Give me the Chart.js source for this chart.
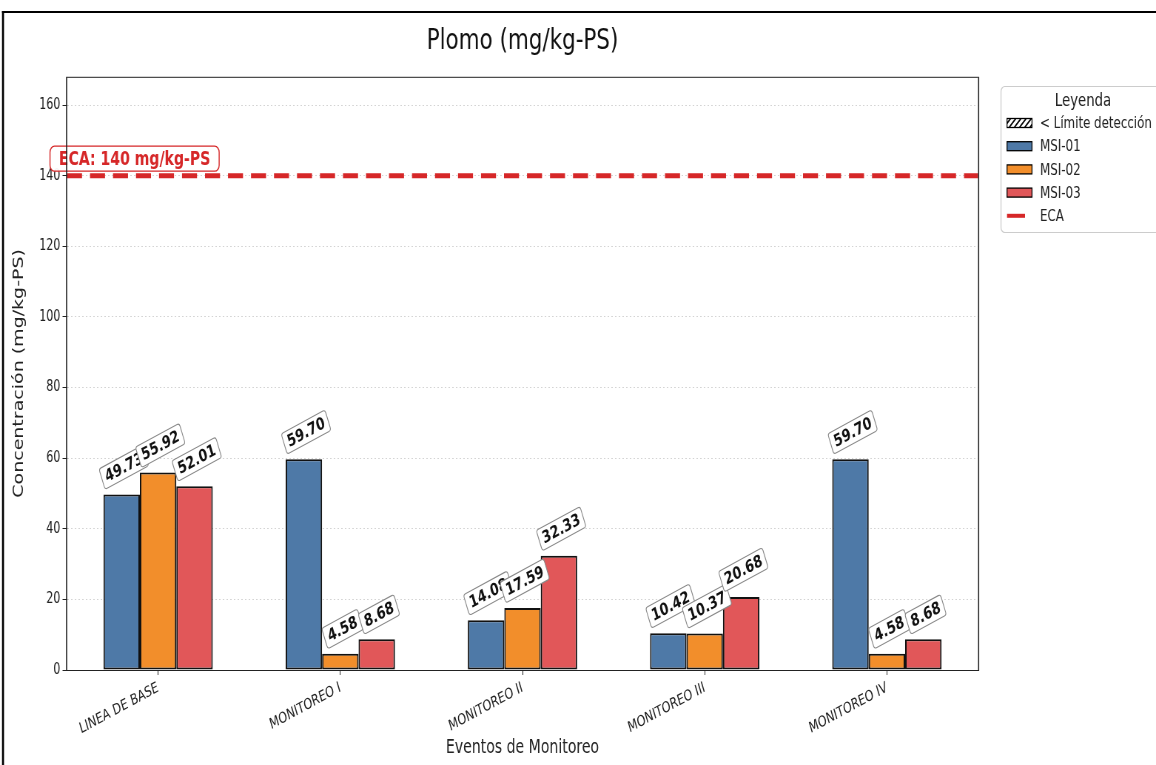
<!DOCTYPE html>
<html>
<head>
<meta charset="utf-8">
<script src="https://cdn.jsdelivr.net/npm/chart.js"></script>
<style>
    html, body { margin: 0; padding: 0; background: #fff; overflow: hidden; }
    #plomo-chart { display: block; }
</style>
</head>
<body>
<!-- el original está comprimido horizontalmente: se dibuja más ancho y se escala por CSS -->
<canvas id="plomo-chart" width="1562" height="765" style="width:1156px;height:765px"></canvas>

<script>
    // Datos del gráfico
    var eventos = ['LINEA DE BASE', 'MONITOREO I', 'MONITOREO II', 'MONITOREO III', 'MONITOREO IV'];
    var msi01 = [49.73, 59.70, 14.08, 10.42, 59.70];
    var msi02 = [55.92, 4.58, 17.59, 10.37, 4.58];
    var msi03 = [52.01, 8.68, 32.33, 20.68, 8.68];
    var ecaValor = 140;
    var yMax = 168;
    var yPaso = 20;

    var SX = 1156 / 1562;   // compresión horizontal
    function lx(px) { return px / SX; }

    var colores = ['#4e79a7', '#f28e2b', '#e15759'];
    var rojoEca = '#d62728';
    var fuente = "'DejaVu Sans', sans-serif";

    // Fondo blanco, marco exterior y caja del área de trazado
    var marcoPlugin = {
        id: 'marco',
        beforeDraw: function(chart) {
            var ctx = chart.ctx;
            ctx.save();
            ctx.fillStyle = '#fff';
            ctx.fillRect(0, 0, chart.width, chart.height);
            ctx.restore();
        },
        afterDraw: function(chart) {
            var ctx = chart.ctx;
            ctx.save();
            ctx.fillStyle = '#000';
            ctx.fillRect(lx(2), 11, chart.width, 2);
            ctx.fillRect(lx(2), 11, lx(2), chart.height);
            var a = chart.chartArea;
            ctx.fillStyle = '#222';
            ctx.fillRect(a.left, a.top, a.right - a.left, 1);
            ctx.fillRect(a.left, a.bottom, a.right - a.left + lx(1), 1);
            ctx.fillRect(a.left - lx(1), a.top, lx(1.2), a.bottom - a.top + 1);
            ctx.fillRect(a.right, a.top, lx(1.2), a.bottom - a.top + 1);
            ctx.restore();
        }
    };

    // Línea ECA y su etiqueta
    var ecaPlugin = {
        id: 'eca',
        afterDatasetsDraw: function(chart) {
            var ctx = chart.ctx;
            var a = chart.chartArea;
            var y = chart.scales.y.getPixelForValue(ecaValor);
            ctx.save();
            ctx.strokeStyle = rojoEca;
            ctx.lineWidth = 5;
            ctx.setLineDash([lx(15), lx(8)]);
            ctx.beginPath();
            ctx.moveTo(a.left, y);
            ctx.lineTo(a.right, y);
            ctx.stroke();
            ctx.setLineDash([]);

            var txt = 'ECA: ' + ecaValor + ' mg/kg-PS';
            ctx.font = 'bold 19px ' + fuente;
            var w = ctx.measureText(txt).width;
            var x0 = lx(50), bh = 25, by = y - 17 - bh / 2;
            ctx.fillStyle = 'rgba(255,255,255,0.95)';
            ctx.strokeStyle = rojoEca;
            ctx.lineWidth = 1.4;
            ctx.beginPath();
            ctx.roundRect(x0, by, w + 24, bh, 6);
            ctx.fill();
            ctx.stroke();
            ctx.fillStyle = rojoEca;
            ctx.textBaseline = 'middle';
            ctx.fillText(txt, x0 + 12, by + bh / 2 + 1);
            ctx.restore();
        }
    };

    // Etiquetas de valor rotadas sobre cada barra
    var etiquetasPlugin = {
        id: 'etiquetas',
        afterDatasetsDraw: function(chart) {
            var ctx = chart.ctx;
            var ang = 22 * Math.PI / 180;
            ctx.save();
            ctx.font = 'bold 17px ' + fuente;
            chart.data.datasets.forEach(function(ds, i) {
                var meta = chart.getDatasetMeta(i);
                meta.data.forEach(function(bar, j) {
                    var txt = ds.data[j].toFixed(2);
                    var bw = ctx.measureText(txt).width + 10;
                    var bh = 22;
                    var H = bw * Math.sin(ang) + bh * Math.cos(ang);
                    var cx = bar.x + 3;
                    var cy = bar.y - 5 - H / 2;
                    ctx.save();
                    ctx.translate(cx, cy);
                    ctx.rotate(-ang);
                    ctx.fillStyle = '#fff';
                    ctx.strokeStyle = '#888';
                    ctx.lineWidth = 1.1;
                    ctx.beginPath();
                    ctx.roundRect(-bw / 2, -bh / 2, bw, bh, 3);
                    ctx.fill();
                    ctx.stroke();
                    ctx.fillStyle = '#111';
                    ctx.textAlign = 'center';
                    ctx.textBaseline = 'middle';
                    ctx.fillText(txt, 0, 1);
                    ctx.restore();
                });
            });
            ctx.restore();
        }
    };

    // Leyenda dibujada a mano (incluye el patrón rayado)
    function patronRayado(ctx) {
        var c = document.createElement('canvas');
        c.width = 7; c.height = 7;
        var p = c.getContext('2d');
        p.fillStyle = '#fff';
        p.fillRect(0, 0, 7, 7);
        p.strokeStyle = '#000';
        p.lineWidth = 1.6;
        p.beginPath();
        p.moveTo(-1, 8); p.lineTo(8, -1);
        p.moveTo(-1, 1); p.lineTo(1, -1);
        p.moveTo(6, 8); p.lineTo(8, 6);
        p.stroke();
        return ctx.createPattern(c, 'repeat');
    }

    var leyendaPlugin = {
        id: 'leyenda',
        afterDraw: function(chart) {
            var ctx = chart.ctx;
            var x0 = lx(1001), y0 = 86;
            ctx.save();
            ctx.fillStyle = '#fff';
            ctx.strokeStyle = '#ccc';
            ctx.lineWidth = 1.2;
            ctx.beginPath();
            ctx.roundRect(x0, y0 + 0.5, lx(175), 146, 5);
            ctx.fill();
            ctx.stroke();

            ctx.fillStyle = '#222';
            ctx.font = '18px ' + fuente;
            ctx.textAlign = 'center';
            ctx.textBaseline = 'middle';
            ctx.fillText('Leyenda', lx(1083), 101);

            var items = [
                { txt: '< Límite detección', fill: patronRayado(ctx) },
                { txt: 'MSI-01', fill: colores[0] },
                { txt: 'MSI-02', fill: colores[1] },
                { txt: 'MSI-03', fill: colores[2] },
                { txt: 'ECA', linea: true }
            ];
            ctx.font = '16px ' + fuente;
            ctx.textAlign = 'left';
            items.forEach(function(it, k) {
                var y = 123 + k * 23.2;
                var px = lx(1007), pw = lx(25);
                if (it.linea) {
                    ctx.fillStyle = rojoEca;
                    ctx.fillRect(px, y - 2, lx(18), 4);
                } else {
                    ctx.fillStyle = it.fill;
                    ctx.fillRect(px, y - 4.5, pw, 9);
                    ctx.strokeStyle = '#000';
                    ctx.lineWidth = 1.3;
                    ctx.strokeRect(px, y - 4.5, pw, 9);
                }
                ctx.fillStyle = '#222';
                ctx.fillText(it.txt, lx(1040), y + 1);
            });
            ctx.restore();
        }
    };

    var ticksY = [];
    for (var t = 0; t <= 160; t += yPaso) ticksY.push(t);

    var ctxPlomo = document.getElementById('plomo-chart').getContext('2d');
    var plomoChart = new Chart(ctxPlomo, {
        type: 'bar',
        data: {
            labels: eventos,
            datasets: [
                { label: 'MSI-01', data: msi01, backgroundColor: colores[0] },
                { label: 'MSI-02', data: msi02, backgroundColor: colores[1] },
                { label: 'MSI-03', data: msi03, backgroundColor: colores[2] }
            ]
        },
        options: {
            responsive: false,
            animation: false,
            devicePixelRatio: 1,
            layout: { padding: { left: 10, right: 1562 - lx(978), top: 16, bottom: 6 } },
            datasets: {
                bar: {
                    categoryPercentage: 0.6,
                    barPercentage: 1,
                    borderColor: '#111',
                    borderWidth: 2,
                    borderSkipped: false
                }
            },
            scales: {
                x: {
                    afterFit: function(s) { s.height = 765 - 6 - 670; },
                    grid: { display: true, drawOnChartArea: false, offset: false, tickLength: 5, color: '#222' },
                    border: { display: false },
                    ticks: {
                        color: '#222',
                        font: { family: fuente, size: 15 },
                        maxRotation: 22,
                        minRotation: 22,
                        padding: 4
                    },
                    title: {
                        display: true,
                        text: 'Eventos de Monitoreo',
                        color: '#222',
                        font: { family: fuente, size: 19 },
                        padding: { top: 4, bottom: 0 }
                    }
                },
                y: {
                    min: 0,
                    max: yMax,
                    afterFit: function(s) { s.width = lx(67) - 10; },
                    afterBuildTicks: function(s) {
                        s.ticks = ticksY.map(function(v) { return { value: v }; });
                    },
                    grid: {
                        color: function(c) { return c.tick && c.tick.value === 0 ? 'rgba(0,0,0,0)' : '#d4d4d4'; },
                        tickColor: '#222',
                        tickLength: 6,
                        lineWidth: 1
                    },
                    border: { display: false, dash: [2, 3] },
                    ticks: {
                        color: '#222',
                        font: { family: fuente, size: 15 },
                        padding: 3
                    },
                    title: {
                        display: true,
                        text: 'Concentración (mg/kg-PS)',
                        color: '#222',
                        font: { family: fuente, size: 19 },
                        padding: { top: 5, bottom: 4 }
                    }
                }
            },
            plugins: {
                legend: { display: false },
                tooltip: { enabled: false },
                title: {
                    display: true,
                    text: 'Plomo (mg/kg-PS)',
                    fullSize: false,
                    color: '#111',
                    font: { family: fuente, size: 29, weight: 'normal' },
                    padding: { top: 8, bottom: 18 }
                }
            }
        },
        plugins: [marcoPlugin, ecaPlugin, etiquetasPlugin, leyendaPlugin]
    });
</script>
</body>
</html>
